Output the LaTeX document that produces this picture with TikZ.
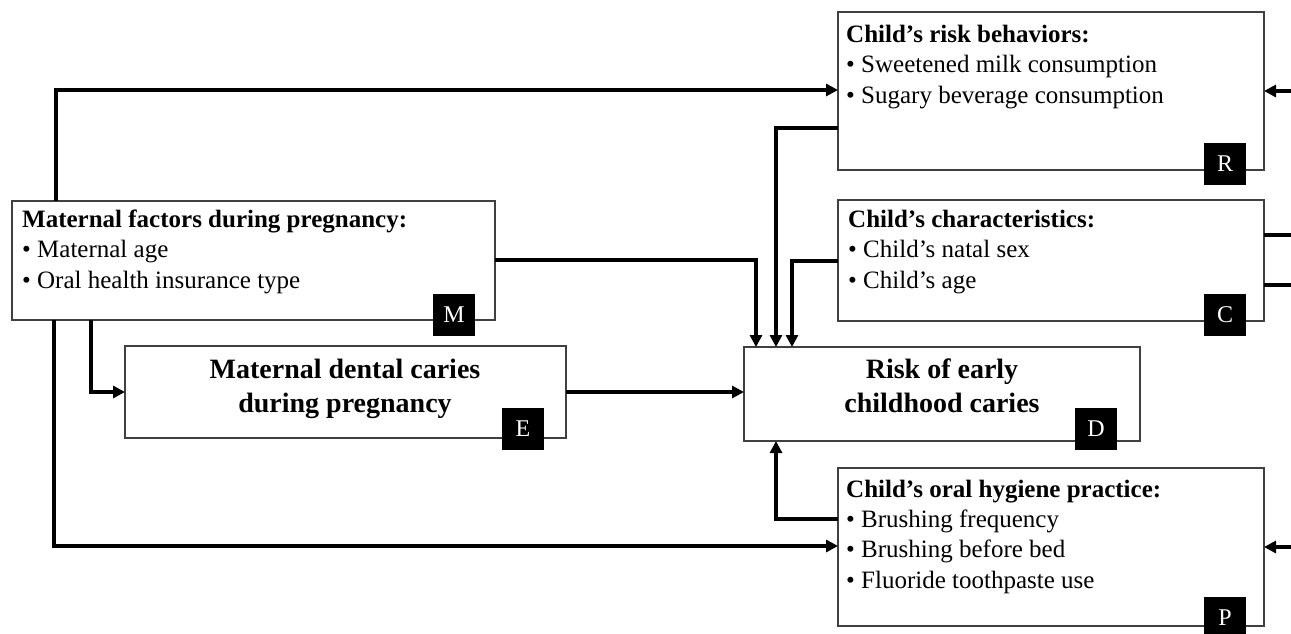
\documentclass[tikz,border=0pt]{standalone}
\usepackage{fontspec}
\setmainfont{Liberation Serif}
\usetikzlibrary{arrows.meta}
\begin{document}
\begin{tikzpicture}[x=1pt,y=-1pt,
  box/.style={draw=black!75,line width=1.3pt,rectangle,inner sep=0pt,outer sep=0pt,anchor=north west},
  lbl/.style={fill=black,text=white,minimum width=42pt,minimum height=42pt,inner sep=0pt,font=\fontsize{24}{26}\selectfont},
  body/.style={anchor=base west,align=left,inner sep=0pt,font=\fontsize{25}{30.3}\selectfont},
  title/.style={anchor=base,align=center,inner sep=0pt,font=\fontsize{28}{34}\selectfont\bfseries},
  conn/.style={line width=3.5pt,-{Triangle[length=12pt,width=12pt]}},
  plain/.style={line width=3.5pt}]
\useasboundingbox (0,0) rectangle (1291,633);
% boxes
\node[box,minimum width=426pt,minimum height=158pt] (R) at (838,12) {};
\node[box,minimum width=426pt,minimum height=121pt] (C) at (838,200) {};
\node[box,minimum width=426pt,minimum height=158pt] (P) at (838,468) {};
\node[box,minimum width=483pt,minimum height=119pt] (M) at (12,201) {};
\node[box,minimum width=441pt,minimum height=92pt] (E) at (125,346) {};
\node[box,minimum width=396pt,minimum height=94pt] (D) at (744,347) {};
% texts (anchor = baseline of last line)
\node[body] (Rt) at (846,103) {\textbf{Child’s risk behaviors:}\\• Sweetened milk consumption\\• Sugary beverage consumption};
\node[body] (Ct) at (848,288) {\textbf{Child’s characteristics:}\\• Child’s natal sex\\• Child’s age};
\node[body] (Pt) at (846,588) {\textbf{Child’s oral hygiene practice:}\\• Brushing frequency\\• Brushing before bed\\• Fluoride toothpaste use};
\node[body] (Mt) at (22,288) {\textbf{Maternal factors during pregnancy:}\\• Maternal age\\• Oral health insurance type};
\node[title] (Et) at (345,412) {Maternal dental caries\\during pregnancy};
\node[title] (Dt) at (942,412) {Risk of early\\childhood caries};
% labels
\node[lbl] (Rl) at (1225,164) {R};
\node[lbl] (Cl) at (1225,315) {C};
\node[lbl] (Pl) at (1225,618) {P};
\node[lbl] (Ml) at (454,315) {M};
\node[lbl] (El) at (523,429) {E};
\node[lbl] (Dl) at (1096,429) {D};
% outside coordinates
\coordinate (rR) at (1300,91);
\coordinate (rC1) at (1300,235);
\coordinate (rC2) at (1300,285);
\coordinate (rP) at (1300,547);
% connectors
\draw[conn] ([xshift=44pt]M.north west) |- ([yshift=-78pt]R.north west);
\draw[conn] ([yshift=-59pt]M.north east) -| ([xshift=12pt]D.north west);
\draw[conn] ([yshift=-116pt]R.north west) -| ([xshift=32pt]D.north west);
\draw[conn] ([yshift=-61pt]C.north west) -| ([xshift=48pt]D.north west);
\draw[conn] ([xshift=79pt]M.south west) |- (E.west);
\draw[conn] (E.east) -- (E.east -| D.west);
\draw[conn] ([xshift=42pt]M.south west) |- ([yshift=-78pt]P.north west);
\draw[conn] ([yshift=-51pt]P.north west) -| ([xshift=32pt]D.south west);
\draw[conn] (rR) -- (rR -| R.east);
\draw[plain] (rC1) -- (rC1 -| C.east);
\draw[plain] (rC2) -- (rC2 -| C.east);
\draw[conn] (rP) -- (rP -| P.east);
\end{tikzpicture}
\end{document}
